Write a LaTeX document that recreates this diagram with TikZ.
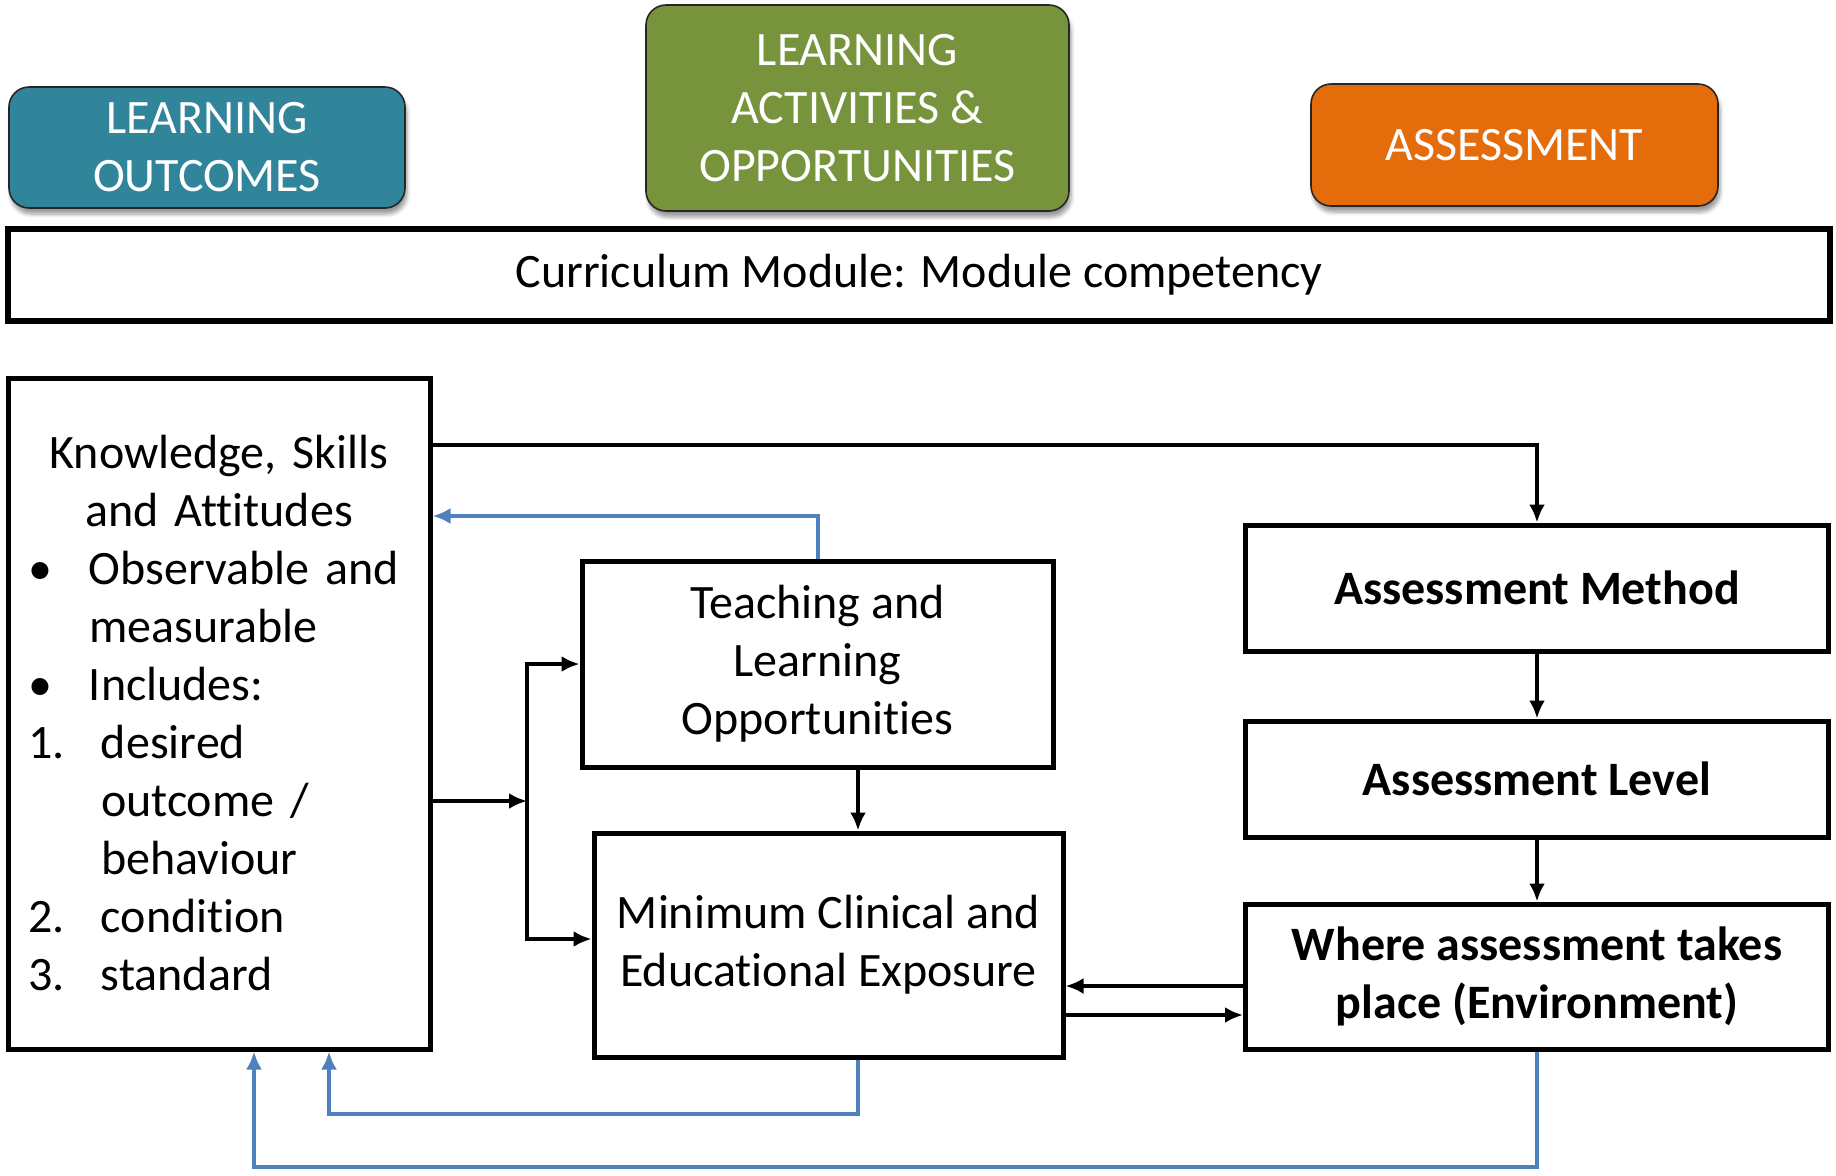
\documentclass[tikz,border=0pt]{standalone}
\usepackage{fontspec}
\setmainfont[Ligatures=NoCommon]{Carlito}
\usepackage{tikz}
\usetikzlibrary{arrows.meta}
\usetikzlibrary{shadows.blur}
\definecolor{loteal}{RGB}{49,133,155}
\definecolor{lagreen}{RGB}{119,147,60}
\definecolor{asorange}{RGB}{228,108,10}
\definecolor{fbblue}{RGB}{79,129,189}
\tikzstyle{header} = [rectangle, rounded corners=10pt, draw=black!85, line width=0.8pt, text=white, align=center, font=\fontsize{24}{29}\selectfont, blur shadow={shadow xshift=1pt, shadow yshift=-3pt, shadow blur steps=6}]
\tikzstyle{stage} = [rectangle, draw=black, line width=2.5pt, fill=white, align=center, inner sep=0pt, font=\fontsize{24}{29}\selectfont]
\tikzstyle{assess} = [stage, minimum width=291.5pt, font=\bfseries\fontsize{24}{29}\selectfont]
\tikzstyle{arrow} = [line width=2.3pt, -{Latex[length=9pt,width=8pt]}]
\tikzstyle{feedback} = [arrow, draw=fbblue, line width=2pt]

\begin{document}
\begin{tikzpicture}[x=0.5pt, y=-0.5pt]
        \useasboundingbox (0,0) rectangle (1836,1175);

        % top row
        \node (outcomes) [header, fill=loteal, minimum width=198pt, minimum height=60.5pt] at (207,147.5) {LEARNING\\OUTCOMES};
        \node (activities) [header, fill=lagreen, minimum width=211.5pt, minimum height=103pt] at (857.5,108) {LEARNING\\ACTIVITIES \&\\OPPORTUNITIES};
        \node (assessment) [header, fill=asorange, minimum width=203.5pt, minimum height=61pt] at (1514.5,145) {ASSESSMENT};
        \node (module) [stage, line width=3pt, minimum width=911pt, minimum height=46pt] at (919,275) {Curriculum Module: Module competency};

        % outcomes column
        \node (ksa) [stage, minimum height=335.5pt, text width=191pt, inner xsep=10pt, align=left] at (219,713.5) {%
            \makebox[\hsize][c]{Knowledge, Skills}\\
            \makebox[\hsize][c]{and Attitudes}\\
            \makebox[30.5pt][l]{\textbullet}Observable and\\
            \hspace*{30.5pt}measurable\\
            \makebox[30.5pt][l]{\textbullet}Includes:\\
            \makebox[36.5pt][l]{1.}desired\\
            \hspace*{36.5pt}outcome /\\
            \hspace*{36.5pt}behaviour\\
            \makebox[36.5pt][l]{2.}condition\\
            \makebox[36.5pt][l]{3.}standard};

        % activities column
        \node (teach) [stage, minimum width=235.5pt, minimum height=103pt] at (817.5,664) {Teaching and\\Learning\\Opportunities};
        \node (exposure) [stage, minimum width=234.5pt, minimum height=112pt] at (828.5,945) {Minimum Clinical and\\Educational Exposure};

        % assessment column
        \node (method) [assess, minimum height=63pt] at (1537,588) {Assessment Method};
        \node (level) [assess, minimum height=58pt] at (1537,779) {Assessment Level};
        \node (where) [assess, minimum height=72.5pt] at (1537,976.5) {Where assessment takes\\place (Environment)};

        \coordinate (split) at (527,801);

        \draw [arrow] (ksa.east |- 0,445) -| (method.north);
        \draw [arrow] (ksa.east |- split) -- (split);
        \draw [arrow] (split) |- (teach.west);
        \draw [arrow] (split) |- (exposure.west |- 0,939);
        \draw [arrow] (858,0 |- teach.south) -- (858,0 |- exposure.north);
        \draw [arrow] (method) -- (level);
        \draw [arrow] (level) -- (where);
        \draw [arrow] (where.west |- 0,986) -- (exposure.east |- 0,986);
        \draw [arrow] (exposure.east |- 0,1015) -- (where.west |- 0,1015);

        % feedback loops
        \draw [feedback] (teach.north) |- (ksa.east |- 0,516);
        \draw [feedback] (858,0 |- exposure.south) -- (858,1114) -| (329,0 |- ksa.south);
        \draw [feedback] (where.south) -- (where.south |- 0,1167) -| (254,0 |- ksa.south);
    \end{tikzpicture}
\end{document}
